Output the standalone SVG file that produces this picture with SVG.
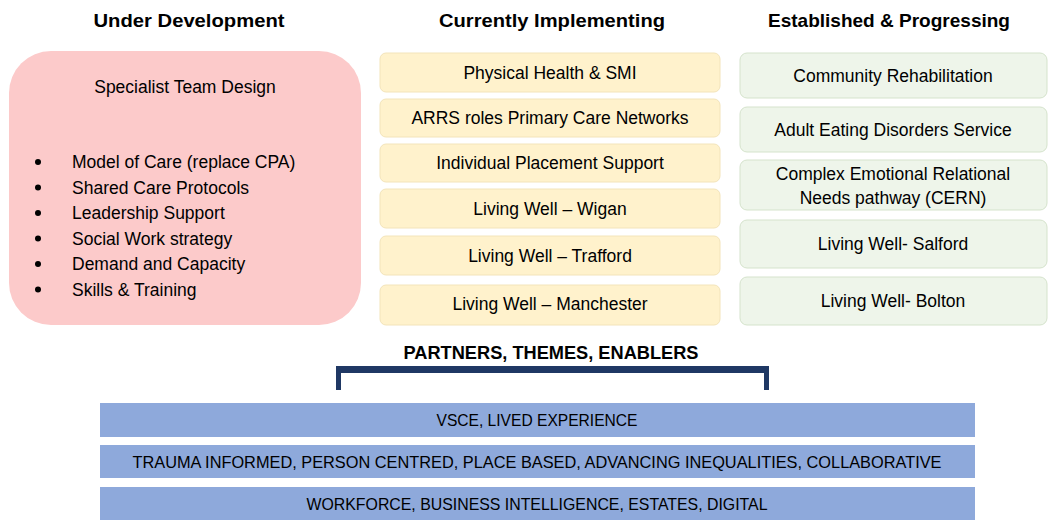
<svg xmlns="http://www.w3.org/2000/svg" width="1059" height="532" viewBox="0 0 1059 532">
<style>
text{font-family:"Liberation Sans",Arial,sans-serif;fill:#000;}
.hd{font-size:19px;font-weight:bold;text-anchor:middle;}
.t{font-size:17.5px;text-anchor:middle;}
.l{font-size:17.5px;}
.bar{font-size:17px;text-anchor:middle;}
.y{fill:#FFF2CC;stroke:#F3E4BA;stroke-width:1;}
.g{fill:#EEF5EA;stroke:#D5E3CC;stroke-width:1;}
.b{fill:#8EA9DB;}
.nv{fill:#1F3864;}
</style>
<rect width="1059" height="532" fill="#fff"/>
<g id="headers">
<text class="hd" x="189" y="27" textLength="191" lengthAdjust="spacingAndGlyphs">Under Development</text>
<text class="hd" x="552" y="27" textLength="226" lengthAdjust="spacingAndGlyphs">Currently Implementing</text>
<text class="hd" x="889" y="27" textLength="242" lengthAdjust="spacingAndGlyphs">Established &amp; Progressing</text>
</g>
<g id="under-development">
<rect x="9" y="51" width="352" height="274" rx="42" fill="#FCCACA"/>
<text class="t" x="185" y="93">Specialist Team Design</text>
<circle cx="38" cy="162" r="3"/><text class="l" x="72" y="168">Model of Care (replace CPA)</text>
<circle cx="38" cy="187.5" r="3"/><text class="l" x="72" y="193.5">Shared Care Protocols</text>
<circle cx="38" cy="213" r="3"/><text class="l" x="72" y="219">Leadership Support</text>
<circle cx="38" cy="238.5" r="3"/><text class="l" x="72" y="244.5">Social Work strategy</text>
<circle cx="38" cy="264" r="3"/><text class="l" x="72" y="270">Demand and Capacity</text>
<circle cx="38" cy="289.5" r="3"/><text class="l" x="72" y="295.5">Skills &amp; Training</text>
</g>
<g id="impl-1"><rect class="y" x="380" y="53" width="340" height="39" rx="6"/><text class="t" x="550" y="79">Physical Health &amp; SMI</text></g>
<g id="impl-2"><rect class="y" x="380" y="99" width="340" height="38" rx="6"/><text class="t" x="550" y="124">ARRS roles Primary Care Networks</text></g>
<g id="impl-3"><rect class="y" x="380" y="144" width="340" height="38" rx="6"/><text class="t" x="550" y="169">Individual Placement Support</text></g>
<g id="impl-4"><rect class="y" x="380" y="189" width="340" height="39" rx="6"/><text class="t" x="550" y="215">Living Well – Wigan</text></g>
<g id="impl-5"><rect class="y" x="380" y="236" width="340" height="39" rx="6"/><text class="t" x="550" y="262">Living Well – Trafford</text></g>
<g id="impl-6"><rect class="y" x="380" y="285" width="340" height="40" rx="6"/><text class="t" x="550" y="310">Living Well – Manchester</text></g>
<g id="est-1"><rect class="g" x="740" y="53" width="307" height="45" rx="7"/><text class="t" x="893" y="82">Community Rehabilitation</text></g>
<g id="est-2"><rect class="g" x="740" y="107" width="307" height="45" rx="7"/><text class="t" x="893" y="136">Adult Eating Disorders Service</text></g>
<g id="est-3"><rect class="g" x="740" y="160" width="307" height="50" rx="7"/><text class="t" x="893" y="180">Complex Emotional Relational</text><text class="t" x="893" y="204">Needs pathway (CERN)</text></g>
<g id="est-4"><rect class="g" x="740" y="220" width="307" height="48" rx="7"/><text class="t" x="893" y="250">Living Well- Salford</text></g>
<g id="est-5"><rect class="g" x="740" y="277" width="307" height="48" rx="7"/><text class="t" x="893" y="307">Living Well- Bolton</text></g>
<g id="partners">
<text class="hd" x="551" y="359" style="font-size:18px" textLength="295" lengthAdjust="spacingAndGlyphs">PARTNERS, THEMES, ENABLERS</text>
</g>
<g id="connectors">
<rect class="nv" x="336" y="366" width="433" height="7"/>
<rect class="nv" x="336" y="373" width="5" height="17"/>
<rect class="nv" x="764" y="373" width="5" height="17"/>
</g>
<g id="bar-1"><rect class="b" x="100" y="403" width="875" height="34"/><text class="bar" x="537" y="426" textLength="201" lengthAdjust="spacingAndGlyphs">VSCE, LIVED EXPERIENCE</text></g>
<g id="bar-2"><rect class="b" x="100" y="445" width="875" height="33"/><text class="bar" x="537" y="468" textLength="809" lengthAdjust="spacingAndGlyphs">TRAUMA INFORMED, PERSON CENTRED, PLACE BASED, ADVANCING INEQUALITIES, COLLABORATIVE</text></g>
<g id="bar-3"><rect class="b" x="100" y="487" width="875" height="33"/><text class="bar" x="537" y="510" textLength="461" lengthAdjust="spacingAndGlyphs">WORKFORCE, BUSINESS INTELLIGENCE, ESTATES, DIGITAL</text></g>
</svg>
